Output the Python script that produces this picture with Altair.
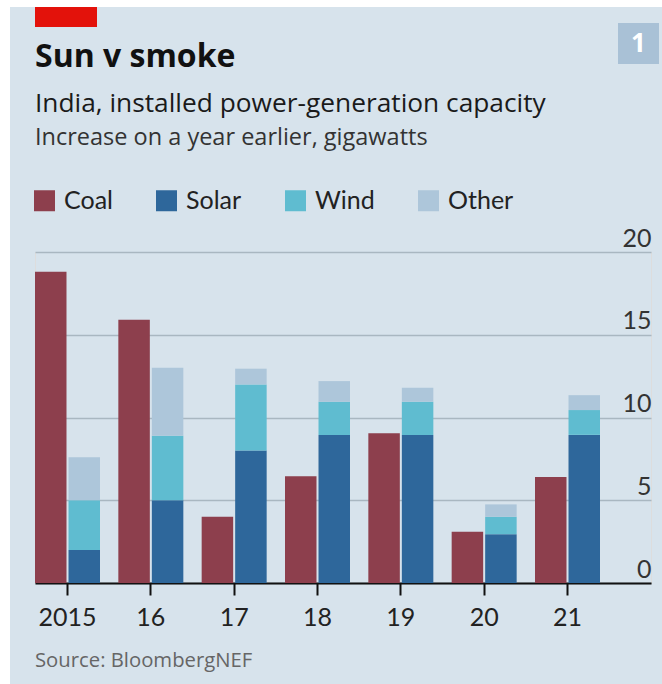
import altair as alt
import pandas as pd

years = ["2015", "16", "17", "18", "19", "20", "21"]
coal = [18.8, 15.9, 4.0, 6.45, 9.05, 3.1, 6.4]
solar = [2.0, 5.0, 8.0, 8.95, 8.95, 2.95, 8.95]
wind = [3.0, 3.9, 4.0, 2.0, 2.0, 1.05, 1.5]
other = [2.6, 4.1, 0.95, 1.25, 0.85, 0.75, 0.9]
types = ["Coal", "Solar", "Wind", "Other"]
colors = ["#8d3f4d", "#2e679b", "#5fbcd0", "#adc6da"]
y_ticks = [0, 5, 10, 15, 20]

rows = []
for i, yr in enumerate(years):
    for k, (t, vals) in enumerate(zip(types, [coal, solar, wind, other])):
        rows.append({"year": yr, "group": "coal" if t == "Coal" else "new",
                     "type": t, "value": vals[i], "ord": k})
df = pd.DataFrame(rows)

FONT = "Lato"
HEAD = "Open Sans"
W, H = 616, 331
one = alt.Data(values=[{"a": 1}])

bars = alt.Chart(df).mark_bar().encode(
    x=alt.X("year:N", sort=years,
            scale=alt.Scale(paddingInner=0.22, paddingOuter=0.306, align=0),
            axis=alt.Axis(title=None, labelAngle=0, domain=True, domainColor="#111",
                          domainWidth=2, ticks=True, tickColor="#111", tickWidth=2,
                          tickSize=12, labelFontSize=25, labelColor="#222",
                          labelBaseline="alphabetic", labelPadding=30, grid=False,
                          labelFont=FONT)),
    xOffset=alt.XOffset("group:N", sort=["coal", "new"],
                        scale=alt.Scale(paddingInner=0.06, paddingOuter=0)),
    y=alt.Y("value:Q", stack="zero",
            scale=alt.Scale(domain=[0, 20], nice=False, zero=True),
            axis=alt.Axis(orient="right", title=None, values=y_ticks, domain=False,
                          ticks=False, tickSize=0, grid=True, gridColor="#a9b7c1",
                          gridWidth=1.5, labelAlign="right", labelPadding=0,
                          labelBaseline="alphabetic", labelOffset=-6, labelFontSize=25,
                          labelColor="#333", labelFlush=False, labelFont=FONT)),
    color=alt.Color("type:N", scale=alt.Scale(domain=types, range=colors),
                    legend=alt.Legend(orient="none", legendX=-3, legendY=-64,
                                      direction="horizontal", title=None,
                                      symbolType="square", symbolSize=441,
                                      symbolStrokeWidth=0, labelFontSize=25,
                                      labelColor="#222", labelOffset=7,
                                      columnPadding=41, padding=0, labelFont=FONT)),
    order=alt.Order("ord:Q", sort="ascending"),
)

def rect(x1, x2, y1, y2, col):
    return alt.Chart(one).mark_rect(color=col).encode(
        x=alt.value(x1), x2=alt.value(x2), y=alt.value(y1), y2=alt.value(y2))

def text(t, x, y, size, col, weight="normal", align="left", baseline="alphabetic", font=HEAD):
    return alt.Chart(one).mark_text(text=t, fontSize=size, color=col, font=font,
                                    fontWeight=weight, align=align,
                                    baseline=baseline).encode(
        x=alt.value(x), y=alt.value(y))

strip_left = rect(-35, -25, -252, 432, "#ffffff")
strip_top = rect(-35, 627, -252, -245, "#ffffff")
red_bar = rect(0, 62, -245, -225, "#e3120b")
box = rect(583, 624, -229, -188, "#a9c1d6")
box_txt = text("1", 603.5, -208, 26, "#ffffff", weight="bold", align="center", baseline="middle")

title = text("Sun v smoke", 0, -185, 32, "#111", weight="bold")
sub1 = text("India, installed power-generation capacity", 0, -140, 26.3, "#1a1a1a")
sub2 = text("Increase on a year earlier, gigawatts", 0, -107, 23.5, "#333")
source = text("Source: BloombergNEF", 0, 415, 20.3, "#666")

chart = alt.layer(
    strip_left, strip_top, red_bar, box, box_txt, title, sub1, sub2, source, bars
).properties(
    width=W, height=H,
    padding={"left": 35, "top": 252, "right": 11, "bottom": 101},
    autosize=alt.AutoSizeParams(type="none"),
    background="#d7e3ec",
).configure_view(stroke=None).configure(font=FONT)

chart.save("out.html", embed_options={"renderer": "svg", "actions": False})
